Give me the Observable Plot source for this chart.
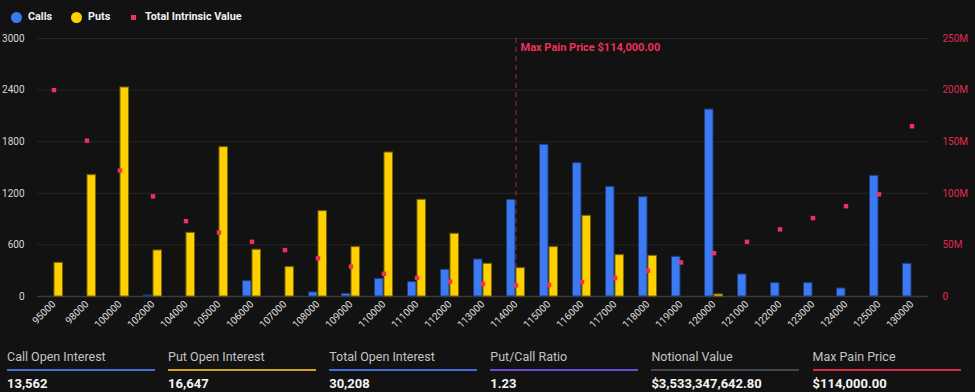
<!DOCTYPE html>
<html><head><meta charset="utf-8">
<script src="https://cdn.jsdelivr.net/npm/d3@7"></script>
<script src="https://cdn.jsdelivr.net/npm/@observablehq/plot@0.6"></script>
<style>
html,body{margin:0;padding:0;background:#121212;width:975px;height:392px;overflow:hidden;font-family:Roboto,"Noto Sans",sans-serif;}
#legend{position:relative;height:30px;}
#legend .dot{position:absolute;border-radius:50%;width:11px;height:11px;}
#legend .sq{position:absolute;width:5px;height:5px;}
#legend .lt{position:absolute;color:#f2f2f2;font-weight:700;font-size:10.8px;line-height:14px;top:10px;}
#chart{position:relative;height:312px;}
#chart svg{display:block;}
#stats{position:absolute;left:0;top:340px;width:975px;height:52px;}
.stat{position:absolute;width:148px;}
.stat .lab{position:absolute;top:8.5px;left:0;font-size:12.5px;line-height:16px;color:#c4c4c4;white-space:nowrap;}
.stat .bar{position:absolute;top:28.5px;left:0;width:148px;height:2px;}
.stat .val{position:absolute;top:35.5px;left:0;font-size:13px;line-height:16px;color:#f4f4f4;font-weight:700;white-space:nowrap;}
</style></head><body>
<div id="legend">
  <div class="dot" style="left:10.5px;top:11.5px;background:#3b7af0"></div>
  <div class="lt" style="left:28px">Calls</div>
  <div class="dot" style="left:70.5px;top:11.5px;background:#ffd000"></div>
  <div class="lt" style="left:88px">Puts</div>
  <div class="sq" style="left:130.5px;top:14.5px;background:#f0325a"></div>
  <div class="lt" style="left:145px">Total Intrinsic Value</div>
</div>
<div id="chart"></div>
<div id="stats"></div>
<script>
const strikes = ["95000","98000","100000","102000","104000","105000","106000","107000","108000","109000","110000","111000","112000","113000","114000","115000","116000","117000","118000","119000","120000","121000","122000","123000","124000","125000","130000"];
const callOI = [0,0,0,12,0,0,178,0,47,31,205,167,310,430,1124,1764,1550,1275,1155,461,2174,256,155,155,93,1403,380];
const putOI = [391,1411,2430,535,740,1736,543,341,992,574,1674,1124,729,380,329,574,938,481,473,0,23,0,0,0,0,0,0];
const intrinsicM = [200,151,122,97,73,62,53,45,37,29,22,18,14.5,12,10.8,11.2,14,18,25,33,42,53,65,76,87.5,99,165];
const leftTicks = [0,600,1200,1800,2400,3000];
const rightTicksM = [0,50,100,150,200,250];
const maxPain = "114000";
const maxPainLabel = "Max Pain Price $114,000.00";
const statLabels = ["Call Open Interest","Put Open Interest","Total Open Interest","Put/Call Ratio","Notional Value","Max Pain Price"];
const statValues = ["13,562","16,647","30,208","1.23","$3,533,347,642.80","$114,000.00"];
const statColors = ["#4a6fd6","#d1a31a","#3f6cd8","#6a4bd6","#434650","#d8264d"];

const k = 3000/250; // left units per million
const data = strikes.map((s,i)=>({strike:s, calls:callOI[i], puts:putOI[i], tiv:intrinsicM[i]}));

const chart = Plot.plot({
  width: 975, height: 312,
  marginLeft: 37, marginRight: 47, marginTop: 8, marginBottom: 46,
  style: {background:"transparent", fontFamily:"Roboto, sans-serif", fontSize:"10px", color:"#d8d8d8", overflow:"visible"},
  x: {type:"band", domain: strikes, padding: 0, label:null},
  y: {domain:[0,3000], label:null},
  marks: [
    Plot.gridY(leftTicks, {stroke:"#262626", strokeOpacity:1}),
    Plot.ruleY([0], {stroke:"#3a3a3a", strokeWidth:1.5}),
    Plot.ruleX([maxPain], {stroke:"#e0305a", strokeDasharray:"5,4", strokeOpacity:0.75}),
    Plot.barY(data.filter(d=>d.calls>0), {x:"strike", y:"calls", fill:"#3b7af0", stroke:"#1d3d80", strokeWidth:1, insetLeft:7.5, insetRight:17}),
    Plot.barY(data.filter(d=>d.puts>0), {x:"strike", y:"puts", fill:"#ffd000", stroke:"#7a6400", strokeWidth:1, insetLeft:17, insetRight:7.5}),
    Plot.dot(data, {x:"strike", y:d=>d.tiv*k, symbol:"square", r:2.5, fill:"#f0325a"}),
    Plot.text([maxPainLabel], {x:()=>maxPain, text:d=>d, frameAnchor:"top", dy:5, dx:4.5, textAnchor:"start", fill:"#f0305a", fontWeight:"bold", fontSize:11}),
    Plot.axisY({ticks:leftTicks, tickFormat:d=>String(d), tickSize:0, tickPadding:13, fill:"#d8d8d8", label:null}),
    Plot.axisY({anchor:"right", ticks:rightTicksM.map(v=>v*k), tickFormat:d=> d===0?"0": (d/k)+"M", tickSize:0, tickPadding:14, fill:"#e02a52", label:null}),
    Plot.axisX({tickRotate:-45, tickSize:0, tickPadding:6, label:null, fill:"#e0e0e0"})
  ]
});
document.getElementById("chart").appendChild(chart);

const stats = document.getElementById("stats");
statLabels.forEach((l,i)=>{
  const d = document.createElement("div");
  d.className = "stat";
  d.style.left = (7 + i*161.1) + "px";
  d.innerHTML = `<div class="lab">${l}</div><div class="bar" style="background:${statColors[i]}"></div><div class="val">${statValues[i]}</div>`;
  stats.appendChild(d);
});
</script>
</body></html>
